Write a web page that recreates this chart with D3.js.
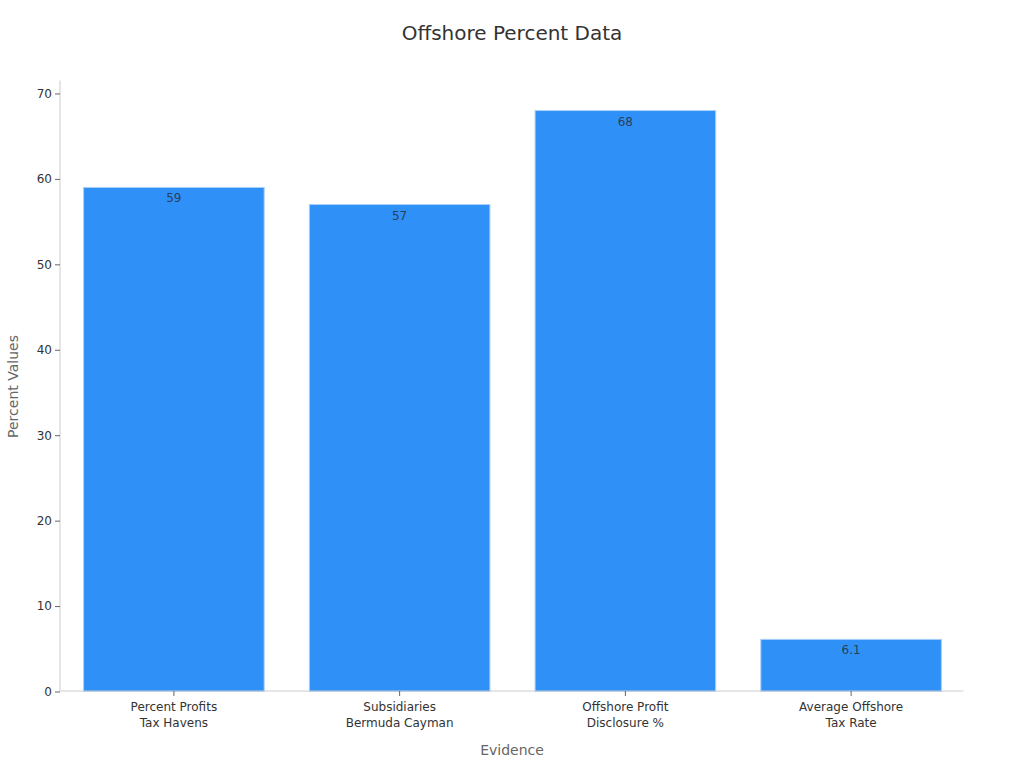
<!DOCTYPE html>
<html><head><meta charset="utf-8">
<script src="https://cdn.jsdelivr.net/npm/d3@7"></script>
<style>body{margin:0;background:#fff;font-family:"DejaVu Sans",sans-serif;}</style>
</head><body><svg id="c" width="1024" height="768"></svg>
<script>
const categories = [["Percent Profits","Tax Havens"],["Subsidiaries","Bermuda Cayman"],["Offshore Profit","Disclosure %"],["Average Offshore","Tax Rate"]];
const values = [59, 57, 68, 6.1];
const valueLabels = ["59","57","68","6.1"];
const yTicks = [0,10,20,30,40,50,60,70];

const svg = d3.select("#c");
const m = {l:60.5, r:963.5, t:81.5, b:691.5};
const keys = categories.map(d=>d.join(" "));
const x = d3.scaleBand().domain(keys).range([m.l+0.5, m.r+0.5]).paddingInner(0.2).paddingOuter(0.1);
const y = d3.scaleLinear().domain([0, 71.4]).range([m.b, m.t]);

svg.append("text").attr("x",512).attr("y",40).attr("text-anchor","middle")
  .attr("font-size",20).attr("fill","#333").text("Offshore Percent Data");

svg.selectAll("rect.bar").data(values).join("rect").attr("class","bar")
  .attr("x",(d,i)=>x(keys[i])).attr("width",x.bandwidth())
  .attr("y",d=>y(d)).attr("height",d=>y(0)-y(d))
  .attr("fill","#2f91f7").attr("stroke","#a9d0f7").attr("stroke-width",1);

svg.selectAll("text.val").data(values).join("text").attr("class","val")
  .attr("x",(d,i)=>x(keys[i])+x.bandwidth()/2).attr("y",d=>y(d)+15)
  .attr("text-anchor","middle").attr("font-size",12).attr("fill","#2b3f5a")
  .text((d,i)=>valueLabels[i]);

const ya = svg.append("g").attr("transform",`translate(${m.l-0.5},0)`)
  .call(d3.axisLeft(y).tickValues(yTicks).tickSize(5).tickPadding(3));
ya.select(".domain").attr("stroke","#ccc").attr("d",`M0,${m.b}V${m.t-1}`);
ya.selectAll(".tick line").attr("stroke","#666");
ya.selectAll(".tick text").attr("font-size",12).attr("fill","#333").attr("font-family","DejaVu Sans");

const xa = svg.append("g").attr("transform",`translate(0,${m.b-0.5})`)
  .call(d3.axisBottom(x).tickSize(5).tickFormat(""));
xa.select(".domain").attr("stroke","#ccc").attr("d",`M${m.l},0H${m.r}`);
xa.selectAll(".tick line").attr("stroke","#666");
xa.selectAll(".tick").each(function(d,i){
  const t = d3.select(this).append("text").attr("fill","#333").attr("font-size",12)
    .attr("text-anchor","middle").attr("font-family","DejaVu Sans");
  categories[i].forEach((s,j)=>t.append("tspan").attr("x",0).attr("y",20+j*16).text(s));
});

svg.append("text").attr("x",(m.l+m.r)/2).attr("y",755).attr("text-anchor","middle")
  .attr("font-size",14).attr("fill","#666").text("Evidence");
svg.append("text").attr("transform",`translate(18,${(m.t+m.b)/2}) rotate(-90)`)
  .attr("text-anchor","middle").attr("font-size",14).attr("fill","#666").text("Percent Values");
</script></body></html>
